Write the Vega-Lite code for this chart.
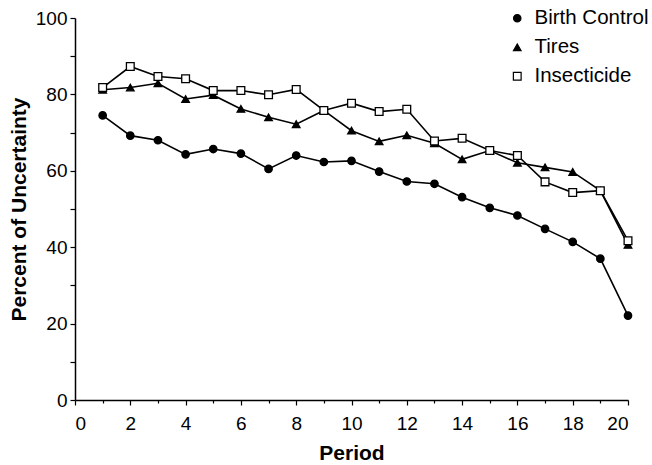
{
  "$schema": "https://vega.github.io/schema/vega-lite/v6.json",
  "width": 553,
  "height": 382,
  "autosize": "none",
  "padding": {"left": 75, "top": 18, "right": 24, "bottom": 65},
  "background": "white",
  "config": {
    "view": {"stroke": null},
    "font": "Liberation Sans",
    "axis": {
      "domainColor": "black",
      "domainWidth": 1.5,
      "tickColor": "black",
      "tickWidth": 1.2,
      "tickSize": 5,
      "grid": false,
      "labelColor": "black",
      "labelFontSize": 19,
      "labelFont": "Liberation Sans",
      "titleColor": "black",
      "titleFont": "Liberation Sans",
      "titleFontSize": 21,
      "titleFontWeight": "bold"
    },
    "legend": {
      "labelFont": "Liberation Sans",
      "labelFontSize": 20.5,
      "labelColor": "black",
      "labelLimit": 300
    }
  },
  "data": {
    "values": [
      {"period": 1, "series": "Birth Control", "value": 74.5},
      {"period": 2, "series": "Birth Control", "value": 69.2},
      {"period": 3, "series": "Birth Control", "value": 68.0},
      {"period": 4, "series": "Birth Control", "value": 64.3},
      {"period": 5, "series": "Birth Control", "value": 65.7},
      {"period": 6, "series": "Birth Control", "value": 64.5},
      {"period": 7, "series": "Birth Control", "value": 60.5},
      {"period": 8, "series": "Birth Control", "value": 64.0},
      {"period": 9, "series": "Birth Control", "value": 62.3},
      {"period": 10, "series": "Birth Control", "value": 62.6},
      {"period": 11, "series": "Birth Control", "value": 59.8},
      {"period": 12, "series": "Birth Control", "value": 57.2},
      {"period": 13, "series": "Birth Control", "value": 56.6},
      {"period": 14, "series": "Birth Control", "value": 53.1},
      {"period": 15, "series": "Birth Control", "value": 50.3},
      {"period": 16, "series": "Birth Control", "value": 48.3},
      {"period": 17, "series": "Birth Control", "value": 44.8},
      {"period": 18, "series": "Birth Control", "value": 41.4},
      {"period": 19, "series": "Birth Control", "value": 37.0},
      {"period": 20, "series": "Birth Control", "value": 22.1},
      {"period": 1, "series": "Tires", "value": 81.2},
      {"period": 2, "series": "Tires", "value": 81.8},
      {"period": 3, "series": "Tires", "value": 82.9},
      {"period": 4, "series": "Tires", "value": 78.8},
      {"period": 5, "series": "Tires", "value": 79.8},
      {"period": 6, "series": "Tires", "value": 76.2},
      {"period": 7, "series": "Tires", "value": 74.0},
      {"period": 8, "series": "Tires", "value": 72.2},
      {"period": 9, "series": "Tires", "value": 75.8},
      {"period": 10, "series": "Tires", "value": 70.5},
      {"period": 11, "series": "Tires", "value": 67.7},
      {"period": 12, "series": "Tires", "value": 69.3},
      {"period": 13, "series": "Tires", "value": 67.2},
      {"period": 14, "series": "Tires", "value": 63.0},
      {"period": 15, "series": "Tires", "value": 65.3},
      {"period": 16, "series": "Tires", "value": 62.1},
      {"period": 17, "series": "Tires", "value": 60.9},
      {"period": 18, "series": "Tires", "value": 59.7},
      {"period": 19, "series": "Tires", "value": 54.8},
      {"period": 20, "series": "Tires", "value": 40.6},
      {"period": 1, "series": "Insecticide", "value": 81.8},
      {"period": 2, "series": "Insecticide", "value": 87.3},
      {"period": 3, "series": "Insecticide", "value": 84.7},
      {"period": 4, "series": "Insecticide", "value": 84.1},
      {"period": 5, "series": "Insecticide", "value": 81.0},
      {"period": 6, "series": "Insecticide", "value": 81.0},
      {"period": 7, "series": "Insecticide", "value": 79.9},
      {"period": 8, "series": "Insecticide", "value": 81.3},
      {"period": 9, "series": "Insecticide", "value": 75.8},
      {"period": 10, "series": "Insecticide", "value": 77.7},
      {"period": 11, "series": "Insecticide", "value": 75.5},
      {"period": 12, "series": "Insecticide", "value": 76.1},
      {"period": 13, "series": "Insecticide", "value": 67.8},
      {"period": 14, "series": "Insecticide", "value": 68.5},
      {"period": 15, "series": "Insecticide", "value": 65.3},
      {"period": 16, "series": "Insecticide", "value": 64.0},
      {"period": 17, "series": "Insecticide", "value": 57.1},
      {"period": 18, "series": "Insecticide", "value": 54.3},
      {"period": 19, "series": "Insecticide", "value": 54.8},
      {"period": 20, "series": "Insecticide", "value": 41.7}
    ]
  },
  "encoding": {
    "x": {
      "field": "period",
      "type": "quantitative",
      "title": "Period",
      "scale": {"domain": [0, 20], "nice": false},
      "axis": {
        "values": [0,1,2,3,4,5,6,7,8,9,10,11,12,13,14,15,16,17,18,19,20],
        "labelExpr": "datum.value % 2 == 0 ? datum.label : ''",
        "tickSize": {"expr": "datum.value % 2 == 0 ? 5 : 3"},
        "labelPadding": 9,
        "titlePadding": 9
      }
    },
    "y": {
      "field": "value",
      "type": "quantitative",
      "title": "Percent of Uncertainty",
      "scale": {"domain": [0, 100], "nice": false},
      "axis": {
        "values": [0,10,20,30,40,50,60,70,80,90,100],
        "labelExpr": "datum.value % 20 == 0 ? datum.label : ''",
        "labelPadding": 3,
        "titlePadding": 6
      }
    }
  },
  "layer": [
    {
      "mark": {"type": "line", "color": "black", "strokeWidth": 1.6},
      "encoding": {"detail": {"field": "series"}}
    },
    {
      "mark": {"type": "point", "opacity": 1, "stroke": "black", "strokeWidth": 1.3},
      "encoding": {
        "shape": {
          "field": "series",
          "type": "nominal",
          "scale": {"domain": ["Birth Control", "Tires", "Insecticide"], "range": ["circle", "triangle-up", "square"]},
          "legend": {
            "title": null,
            "orient": "none",
            "legendX": 432,
            "legendY": -10,
            "rowPadding": 8,
            "symbolSize": 36,
            "symbolStrokeColor": "black",
            "symbolStrokeWidth": 1.2,
            "labelOffset": 7
          }
        },
        "fill": {
          "field": "series",
          "type": "nominal",
          "scale": {"domain": ["Birth Control", "Tires", "Insecticide"], "range": ["black", "black", "white"]}
        },
        "size": {
          "field": "series",
          "type": "nominal",
          "scale": {"domain": ["Birth Control", "Tires", "Insecticide"], "range": [55, 60, 65]}
        }
      }
    }
  ]
}
